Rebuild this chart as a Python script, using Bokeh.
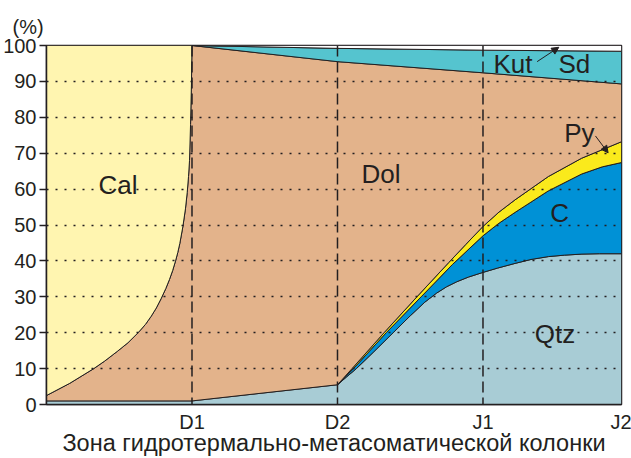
import numpy as np
from bokeh.plotting import figure
from bokeh.models import Range1d, FixedTicker, Arrow, NormalHead, Label, Span
from bokeh.embed import file_html
from bokeh.resources import INLINE

# ---------------- data ----------------
zones = ["D1", "D2", "J1", "J2"]
zone_x = [1.0, 2.0, 3.0, 3.952]
y_ticks = [0, 10, 20, 30, 40, 50, 60, 70, 80, 90, 100]
grid_ticks = [10, 20, 30, 40, 50, 60, 70, 80, 90]
x_title = "Зона гидротермально-метасоматической колонки"

# Cal / Dol boundary (cumulative %)
cal_x = [0.0, 0.16, 0.325, 0.40, 0.49, 0.56, 0.63, 0.68, 0.72, 0.755, 0.788, 0.82, 0.845,
         0.867, 0.887, 0.902, 0.916, 0.937, 0.955, 0.967, 0.976, 0.983, 0.99, 0.996, 1.0]
cal_y = [2.5, 5.9, 10, 12.1, 14.9, 17.2, 20, 22.3, 24.6, 26.9, 29.5, 32.3, 34.8,
         37.3, 40, 42.3, 44.8, 49.5, 54.5, 59, 63.5, 68, 78, 89, 100]

# Qtz top (cumulative %)
qtz_x = [0.0, 1.0, 2.0, 2.06, 2.13, 2.25, 2.383, 2.5, 2.6, 2.68, 2.75, 2.82, 2.9,
         3.0, 3.1, 3.22, 3.33, 3.45, 3.56, 3.68, 3.8, 3.952]
qtz_y = [1.0, 1.0, 5.5, 7.6, 10, 14.7, 20, 24.7, 28.5, 31.0, 32.8, 34.2, 35.5,
         36.8, 38.0, 39.3, 40.4, 41.2, 41.6, 41.9, 42.0, 42.0]

# C top (cumulative %)
c_x = [2.0, 2.11, 2.335, 2.575, 2.79, 3.0, 3.11, 3.22, 3.449, 3.678, 3.82, 3.952]
c_y = [5.5, 10, 20, 30, 39.0, 47.0, 50.5, 53.5, 59.5, 64.2, 66.2, 67.4]

# Py top (cumulative %)
py_x = [2.0, 2.10, 2.32, 2.546, 2.766, 2.88, 3.0, 3.11, 3.22, 3.449, 3.678, 3.952]
py_y = [5.5, 10, 20, 30, 39.6, 44.5, 49.6, 53.6, 57.0, 63.5, 68.6, 73.2]

# Dol top = Sd bottom, Sd top = Kut bottom (at D1, D2, J1, J2)
sd_bot = [100, 95.5, 92.4, 89.3]
sd_top = [100, 99.2, 98.7, 98.4]

# ---------------- colours ----------------
INK = "#231F20"
col_cal = "#FFF5B0"
col_dol = "#E3B38B"
col_qtz = "#A8CCD5"
col_c = "#0091D6"
col_py = "#FAEA1C"
col_sd = "#55C4CF"
col_kut = "#FFFFFF"

FONT = "Liberation Sans"

p = figure(width=631, height=458, output_backend="svg", toolbar_location=None,
           x_range=Range1d(0, zone_x[-1]), y_range=Range1d(0, 100),
           min_border_left=46, min_border_right=10, min_border_top=45, min_border_bottom=53)
p.background_fill_color = "white"
p.border_fill_color = "white"
p.outline_line_color = INK
p.outline_line_width = 1.5

qx = np.array(qtz_x); qy = np.array(qtz_y)
m2 = qx >= 2.0
xmax = zone_x[-1]

# Qtz
p.patch(list(qx) + [xmax, 0.0], list(qy) + [0, 0], fill_color=col_qtz, line_color=INK, line_width=1)
# C
p.patch(c_x + list(qx[m2][::-1]), c_y + list(qy[m2][::-1]), fill_color=col_c, line_color=INK, line_width=1)
# Py
p.patch(py_x + c_x[::-1], py_y + c_y[::-1], fill_color=col_py, line_color=INK, line_width=1)
# Dol
dol_x = list(qx[qx <= 2.0]) + py_x[1:] + zone_x[::-1] + cal_x[:-1][::-1]
dol_y = list(qy[qx <= 2.0]) + py_y[1:] + sd_bot[::-1] + cal_y[:-1][::-1]
p.patch(dol_x, dol_y, fill_color=col_dol, line_color=INK, line_width=1)
# Cal
p.patch(cal_x + [0.0], cal_y + [100], fill_color=col_cal, line_color=INK, line_width=1)
# Sd
p.patch(zone_x + zone_x[::-1], sd_bot + sd_top[::-1], fill_color=col_sd, line_color=INK, line_width=1)
# Kut
p.patch(zone_x + [xmax, zone_x[0]], sd_top + [100, 100], fill_color=col_kut, line_color=INK, line_width=1)

# dotted grid on top
p.xgrid.visible = False
p.ygrid.ticker = FixedTicker(ticks=grid_ticks)
p.ygrid.level = "guide"
p.ygrid.grid_line_color = INK
p.ygrid.grid_line_width = 1.6
p.ygrid.grid_line_dash = "2 7"

# dashed zone boundaries
for zx in zone_x[:3]:
    p.add_layout(Span(location=zx, dimension="height", line_color=INK,
                      line_width=1.5, line_dash="11 5"))

# axes
p.yaxis.ticker = FixedTicker(ticks=y_ticks)
p.yaxis.minor_tick_line_color = None
p.yaxis.major_tick_out = 7
p.yaxis.major_tick_in = 0
p.yaxis.major_label_standoff = 3
p.yaxis.major_label_text_font = FONT
p.yaxis.major_label_text_font_size = "20px"
p.yaxis.major_label_text_color = INK
p.yaxis.axis_line_color = INK
p.yaxis.axis_line_width = 1.5
p.yaxis.major_tick_line_color = INK
p.yaxis.major_tick_line_width = 1.5

p.xaxis.ticker = FixedTicker(ticks=zone_x)
p.xaxis.major_label_overrides = {zx: z for zx, z in zip(zone_x, zones)}
p.xaxis.minor_tick_line_color = None
p.xaxis.major_tick_out = 0
p.xaxis.major_tick_in = 0
p.xaxis.major_label_standoff = 6
p.xaxis.major_label_text_font = FONT
p.xaxis.major_label_text_font_size = "20px"
p.xaxis.major_label_text_color = INK
p.xaxis.axis_line_color = INK
p.xaxis.axis_line_width = 1.5
p.xaxis.axis_label = x_title
p.xaxis.axis_label_text_font = FONT
p.xaxis.axis_label_text_font_size = "23.5px"
p.xaxis.axis_label_text_font_style = "normal"
p.xaxis.axis_label_text_color = INK
p.xaxis.axis_label_standoff = -6

# "(%)" as title
p.title.text = "(%)"
p.title.text_font = FONT
p.title.text_font_size = "20px"
p.title.text_font_style = "normal"
p.title.text_color = INK
p.title.align = "left"
p.title.offset = -34
p.title.standoff = 15

# region labels
labels = [("Cal", 0.491, 61.1), ("Dol", 2.299, 64.2), ("Qtz", 3.495, 19.6),
          ("C", 3.526, 53.3), ("Py", 3.662, 75.5), ("Kut", 3.206, 94.8), ("Sd", 3.628, 94.8)]
for t, lx, ly in labels:
    p.add_layout(Label(x=lx, y=ly, text=t, text_font=FONT, text_font_size="26px",
                       text_color=INK, text_align="center", text_baseline="middle"))

# pointer arrows
p.add_layout(Arrow(end=NormalHead(size=7, fill_color=INK, line_color=INK, line_width=1),
                   x_start=3.372, y_start=95.5, x_end=3.521, y_end=99.5,
                   line_color=INK, line_width=1))
p.add_layout(Arrow(end=NormalHead(size=7, fill_color=INK, line_color=INK, line_width=1),
                   x_start=3.773, y_start=74.8, x_end=3.860, y_end=70.1,
                   line_color=INK, line_width=1))

open("out.html", "w").write(file_html(p, INLINE))
